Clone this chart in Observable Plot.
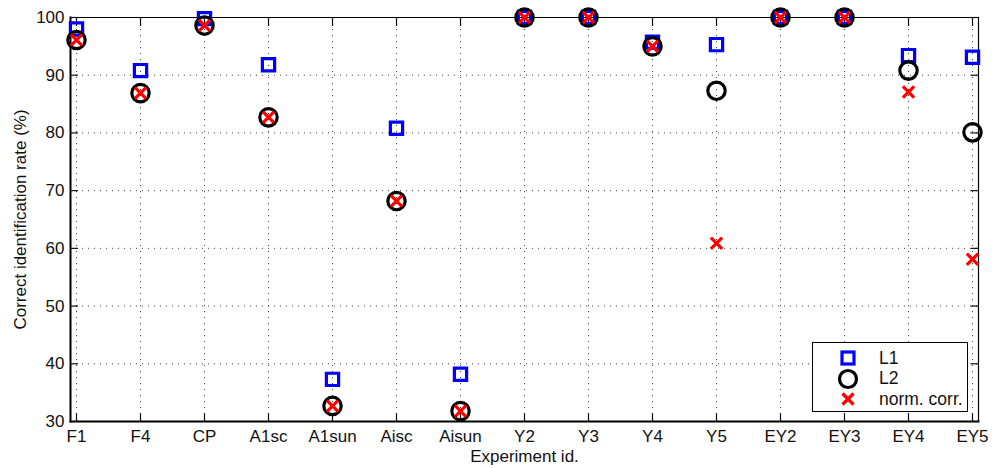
<!DOCTYPE html>
<html>
<head>
<meta charset="utf-8">
<script src="https://cdn.jsdelivr.net/npm/d3@7"></script>
<script src="https://cdn.jsdelivr.net/npm/@observablehq/plot@0.6"></script>
<style>
  html, body { margin: 0; padding: 0; background: #fff; }
  #wrap { position: relative; width: 996px; height: 468px; font-family: "Liberation Sans", Arial, sans-serif; }
  #legend { position: absolute; left: 812px; top: 342px; width: 156px; height: 70px; border: 1px solid #000; background: #fff; box-sizing: border-box; }
  #legend .row { position: absolute; left: 0; height: 20px; display: flex; align-items: center; font-size: 17.5px; color: #111; }
  #legend svg { position: absolute; left: 25px; }
  #legend span { position: absolute; left: 66px; white-space: nowrap; }
</style>
</head>
<body>
<div id="wrap">
  <div id="chart"></div>
  <div id="legend"></div>
</div>
<script>
const experiments = ["F1","F4","CP","A1sc","A1sun","Aisc","Aisun","Y2","Y3","Y4","Y5","EY2","EY3","EY4","EY5"];
const L1 =        [98.0, 90.8, 99.8, 91.8, 37.3, 80.8, 38.2, 100, 100, 95.7, 95.3, 100, 100, 93.4, 93.1];
const L2 =        [96.1, 86.9, 98.6, 82.7, 32.7, 68.2, 31.8, 100, 100, 95.0, 87.3, 100, 100, 90.8, 80.1];
const normCorr =  [96.1, 86.9, 98.6, 82.7, 32.7, 68.2, 31.8, 100, 100, 95.0, 60.9, 100, 100, 87.1, 58.1];
const yTicks = [30, 40, 50, 60, 70, 80, 90, 100];
const seriesNames = ["L1", "L2", "norm. corr."];

const rows = (vals) => experiments.map((e, i) => ({exp: e, v: vals[i]}));
const font = "Liberation Sans, Arial, sans-serif";

const chart = Plot.plot({
  width: 996,
  height: 468,
  marginLeft: 70,
  marginRight: 18,
  marginTop: 17,
  marginBottom: 47,
  style: {fontFamily: font, fontSize: "17px", color: "#111", background: "#fff", overflow: "visible"},
  x: {type: "point", domain: experiments, padding: 0},
  y: {domain: [30, 100]},
  marks: [
    Plot.gridX(experiments, {stroke: "#000", strokeOpacity: 0.75, strokeDasharray: "1,5", strokeWidth: 1}),
    Plot.gridY(yTicks, {stroke: "#000", strokeOpacity: 0.75, strokeDasharray: "1,5", strokeWidth: 1}),
    Plot.frame({anchor: "top", stroke: "#000", strokeWidth: 1.2}),
    Plot.frame({anchor: "right", stroke: "#000", strokeWidth: 1.2}),
    Plot.frame({anchor: "left", stroke: "#000", strokeWidth: 2}),
    Plot.frame({anchor: "bottom", stroke: "#000", strokeWidth: 2}),
    Plot.axisY(yTicks, {anchor: "left", tickSize: -8, tickPadding: 14, fontSize: 17, strokeWidth: 1.2,
      label: "Correct identification rate (%)", labelAnchor: "center", labelArrow: "none", labelOffset: 57}),
    Plot.axisY(yTicks, {anchor: "right", tickSize: -8, strokeWidth: 1.2, tickFormat: () => "", label: null}),
    Plot.axisX(experiments, {anchor: "bottom", tickSize: -8, tickPadding: 16, fontSize: 17, strokeWidth: 1.2,
      label: "Experiment id.", labelAnchor: "center", labelArrow: "none", labelOffset: 40}),
    Plot.axisX(experiments, {anchor: "top", tickSize: -8, strokeWidth: 1.2, tickFormat: () => "", label: null}),
    Plot.dot(rows(L1), {x: "exp", y: "v", symbol: "square", r: 6.9, stroke: "#0000ff", strokeWidth: 3.2, fill: "none"}),
    Plot.dot(rows(L2), {x: "exp", y: "v", symbol: "circle", r: 8.7, stroke: "#000", strokeWidth: 3.2, fill: "none"}),
    Plot.dot(rows(normCorr), {x: "exp", y: "v", symbol: "times", r: 5.2, stroke: "#ff0000", strokeWidth: 3.2})
  ]
});
document.getElementById("chart").appendChild(chart);

// legend
const legend = document.getElementById("legend");
const symbols = [
  `<rect x="4" y="4" width="12" height="12" fill="none" stroke="#0000ff" stroke-width="3.2"/>`,
  `<circle cx="10" cy="10" r="8.5" fill="none" stroke="#000" stroke-width="3.2"/>`,
  `<path d="M4.5,4.5L15.5,15.5M4.5,15.5L15.5,4.5" stroke="#ff0000" stroke-width="3.2"/>`
];
seriesNames.forEach((name, i) => {
  const row = document.createElement("div");
  row.className = "row";
  row.style.top = (5 + i * 20.5) + "px";
  row.style.width = "100%";
  row.innerHTML = `<svg width="20" height="20" viewBox="0 0 20 20" style="overflow:visible">${symbols[i]}</svg><span>${name}</span>`;
  legend.appendChild(row);
});
</script>
</body>
</html>
